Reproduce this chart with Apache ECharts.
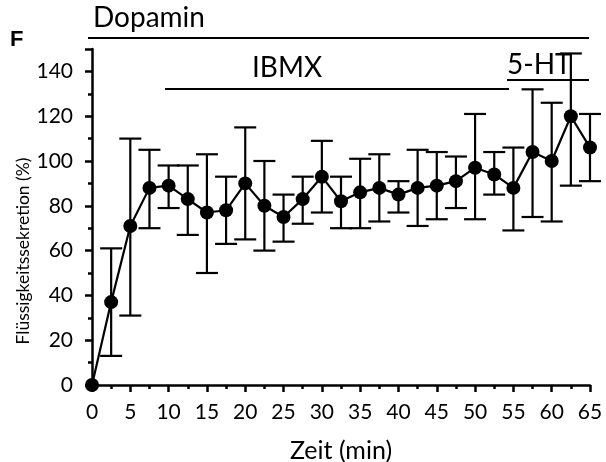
<!DOCTYPE html>
<html>
<head>
<meta charset="utf-8">
<script src="https://cdn.jsdelivr.net/npm/echarts@6/dist/echarts.min.js"></script>
<style>
  html, body { margin: 0; padding: 0; background: #fff; }
  #chart { width: 606px; height: 462px; }
</style>
</head>
<body>
<div id="chart"></div>
<script>
// Time points (min)
const times = [0, 2.5, 5, 7.5, 10, 12.5, 15, 17.5, 20, 22.5, 25, 27.5, 30, 32.5,
               35, 37.5, 40, 42.5, 45, 47.5, 50, 52.5, 55, 57.5, 60, 62.5, 65];
// Mean fluid secretion (%)
const secretion = [0, 37, 71, 88, 89, 83, 77, 78, 90, 80, 75, 83, 93, 82,
                   86, 88, 85, 88, 89, 91, 97, 94, 88, 104, 100, 120, 106];
// Upper and lower ends of the error bars (%)
const errHigh = [0, 61, 110, 105, 98, 98, 103, 93, 115, 100, 85, 93, 109, 93,
                 101, 103, 91, 105, 104, 102, 121, 104, 106, 132, 126, 148, 121];
const errLow  = [0, 13, 31, 70, 79, 67, 50, 63, 65, 60, 64, 72, 77, 70,
                 70, 73, 77, 71, 74, 79, 74, 85, 69, 75, 73, 89, 91];
// Axis tick labels
const xTicks = [0, 5, 10, 15, 20, 25, 30, 35, 40, 45, 50, 55, 60, 65];
const yTicks = [0, 20, 40, 60, 80, 100, 120, 140];

const FONT = 'Lato';
const chart = echarts.init(document.getElementById('chart'), null, { renderer: 'canvas' });

const points = times.map((t, i) => [t, secretion[i]]);
const bars = times.map((t, i) => [t, errLow[i], errHigh[i]]);

const axisLineStyle = { color: '#000', width: 2.5 };

const option = {
  animation: false,
  backgroundColor: '#fff',
  grid: { left: 92, right: 16, top: 49, bottom: 77, containLabel: false, outerBoundsMode: 'none' },
  xAxis: {
    type: 'value',
    min: 0, max: 65, interval: 5,
    name: 'Zeit (min)',
    nameLocation: 'middle',
    nameGap: 53,
    nameTextStyle: { fontFamily: FONT, fontSize: 25, color: '#000' },
    axisLine: { show: true, lineStyle: axisLineStyle },
    axisTick: { show: true, length: 7, lineStyle: { color: '#000', width: 2.5 } },
    minorTick: { show: true, splitNumber: 2, length: 4, lineStyle: { color: '#000', width: 2.5 } },
    axisLabel: {
      fontFamily: FONT, fontSize: 21, color: '#000', margin: 17,
      formatter: v => (xTicks.indexOf(v) >= 0 ? String(v) : '')
    },
    splitLine: { show: false }
  },
  yAxis: [
    {
      type: 'value',
      min: 0, max: 150, interval: 20,
      axisLine: { show: true, lineStyle: axisLineStyle },
      axisTick: { show: true, length: 7, lineStyle: { color: '#000', width: 2.5 } },
      axisLabel: {
        fontFamily: FONT, fontSize: 21, color: '#000', margin: 19,
        formatter: v => (yTicks.indexOf(v) >= 0 ? String(v) : '')
      },
      splitLine: { show: false }
    },
    {
      // minor ticks every 10 %
      type: 'value',
      position: 'left',
      min: 0, max: 150, interval: 10,
      axisLine: { show: false },
      axisTick: { show: true, length: 4, lineStyle: { color: '#000', width: 2.5 } },
      axisLabel: { show: false },
      splitLine: { show: false }
    }
  ],
  series: [
    {
      type: 'custom',
      name: 'err',
      z: 2,
      data: bars,
      encode: { x: 0, y: [1, 2] },
      renderItem: function (params, api) {
        const x = api.value(0), lo = api.value(1), hi = api.value(2);
        if (hi === lo) return null;
        const pLo = api.coord([x, lo]);
        const pHi = api.coord([x, hi]);
        const half = 11;
        const style = { stroke: '#000', lineWidth: 2.2 };
        return {
          type: 'group',
          children: [
            { type: 'line', shape: { x1: pLo[0], y1: pLo[1], x2: pHi[0], y2: pHi[1] }, style },
            { type: 'line', shape: { x1: pLo[0] - half, y1: pLo[1], x2: pLo[0] + half, y2: pLo[1] }, style },
            { type: 'line', shape: { x1: pHi[0] - half, y1: pHi[1], x2: pHi[0] + half, y2: pHi[1] }, style }
          ]
        };
      }
    },
    {
      type: 'line',
      name: 'Sekretion',
      z: 3,
      data: points,
      symbol: 'circle',
      symbolSize: 14,
      itemStyle: { color: '#000' },
      lineStyle: { color: '#000', width: 2.2 },
      clip: false
    }
  ]
};
chart.setOption(option);

// Treatment bars, panel letter and y-axis title
const lineStyle = { stroke: '#000', lineWidth: 2 };
const label = (t, x, y, size, opts) => Object.assign({
  type: 'text', x: x, y: y,
  style: {
    text: t, fontFamily: (opts && opts.font) || FONT, fontSize: size,
    fontWeight: (opts && opts.weight) || 'normal', fill: '#000',
    align: (opts && opts.align) || 'left', verticalAlign: 'middle'
  }
}, (opts && opts.extra) || {});
chart.setOption({
  graphic: [
    label('F', 10, 40, 22, { weight: 'bold', font: 'Liberation Sans' }),
    label('Dopamin', 93, 18, 28),
    { type: 'line', shape: { x1: 88, y1: 38, x2: 589, y2: 38 }, style: lineStyle },
    label('IBMX', 252, 68, 28),
    { type: 'line', shape: { x1: 165, y1: 89, x2: 509, y2: 89 }, style: lineStyle },
    label('5-HT', 507, 65, 28),
    { type: 'line', shape: { x1: 507, y1: 80, x2: 589, y2: 80 }, style: lineStyle },
    label('Flüssigkeitssekretion (%)', 23, 251, 17.5,
          { align: 'center', extra: { rotation: Math.PI / 2 } })
  ]
});
</script>
</body>
</html>
